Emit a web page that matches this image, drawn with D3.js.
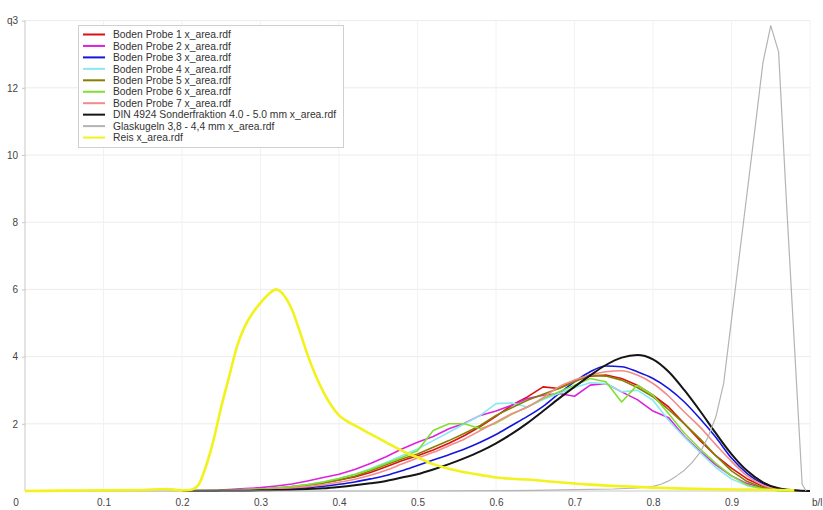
<!DOCTYPE html>
<html>
<head>
<meta charset="utf-8">
<script src="https://cdn.jsdelivr.net/npm/d3@7"></script>
<style>
  html, body { margin: 0; padding: 0; background: #fff; }
  svg { display: block; font-family: "Liberation Sans", Arial, sans-serif; }
  .axis text { fill: #444; font-size: 10px; }
  .axis path, .axis line { stroke: #c8c8c8; }
</style>
</head>
<body>
<svg id="chart" width="823" height="510"></svg>
<script>
// Shape factor b/l grid shared by the soil samples and the DIN reference
const shapeX = [0.20, 0.22, 0.24, 0.26, 0.28, 0.30, 0.32, 0.34, 0.36, 0.38,
                0.40, 0.42, 0.44, 0.46, 0.48, 0.50, 0.52, 0.54, 0.56, 0.58,
                0.60, 0.62, 0.64, 0.66, 0.68, 0.70, 0.72, 0.74, 0.76, 0.78,
                0.80, 0.82, 0.84, 0.86, 0.88, 0.90, 0.92, 0.94, 0.96, 0.98, 1.00];

const probe1 = [0, 0.01, 0.01, 0.02, 0.04, 0.06, 0.09, 0.13, 0.18, 0.25,
                0.33, 0.42, 0.55, 0.72, 0.90, 1.05, 1.22, 1.42, 1.65, 1.92,
                2.22, 2.55, 2.80, 3.10, 3.05, 3.28, 3.42, 3.45, 3.35, 3.15,
                2.85, 2.50, 2.00, 1.50, 1.05, 0.68, 0.36, 0.14, 0.04, 0.01, 0];
const probe2 = [0, 0.01, 0.02, 0.04, 0.07, 0.10, 0.15, 0.21, 0.30, 0.40,
                0.50, 0.64, 0.82, 1.02, 1.25, 1.45, 1.62, 1.85, 2.02, 2.25,
                2.38, 2.55, 2.75, 2.85, 2.90, 2.82, 3.15, 3.20, 2.95, 2.72,
                2.38, 2.18, 1.62, 1.18, 0.78, 0.45, 0.22, 0.08, 0.02, 0, 0];
const probe3 = [0, 0, 0.01, 0.01, 0.02, 0.03, 0.05, 0.07, 0.10, 0.14,
                0.20, 0.27, 0.36, 0.46, 0.60, 0.76, 0.92, 1.08, 1.25, 1.45,
                1.68, 1.95, 2.22, 2.52, 2.90, 3.25, 3.55, 3.72, 3.70, 3.55,
                3.35, 3.05, 2.65, 2.15, 1.60, 0.98, 0.52, 0.22, 0.07, 0.01, 0];
const probe4 = [0, 0.01, 0.01, 0.02, 0.04, 0.06, 0.09, 0.13, 0.19, 0.27,
                0.37, 0.50, 0.66, 0.85, 1.05, 1.25, 1.50, 1.75, 2.00, 2.25,
                2.60, 2.62, 2.50, 2.72, 2.90, 3.08, 3.22, 3.20, 2.95, 3.00,
                2.70, 2.10, 1.60, 1.15, 0.70, 0.36, 0.16, 0.06, 0.02, 0, 0];
const probe5 = [0, 0.01, 0.01, 0.02, 0.03, 0.05, 0.08, 0.12, 0.17, 0.24,
                0.33, 0.44, 0.60, 0.78, 0.95, 1.10, 1.30, 1.50, 1.72, 1.95,
                2.25, 2.48, 2.70, 2.88, 3.05, 3.25, 3.45, 3.42, 3.30, 3.08,
                2.80, 2.42, 2.00, 1.55, 1.05, 0.60, 0.28, 0.10, 0.03, 0.01, 0];
const probe6 = [0, 0.01, 0.01, 0.02, 0.04, 0.06, 0.09, 0.13, 0.19, 0.27,
                0.37, 0.49, 0.64, 0.82, 1.00, 1.20, 1.80, 2.00, 2.00, 1.85,
                2.02, 2.28, 2.50, 2.75, 2.95, 3.15, 3.35, 3.25, 2.65, 3.15,
                2.85, 2.30, 1.72, 1.25, 0.82, 0.45, 0.18, 0.06, 0.01, 0, 0];
const probe7 = [0, 0, 0.01, 0.01, 0.02, 0.04, 0.06, 0.09, 0.13, 0.19,
                0.26, 0.35, 0.47, 0.62, 0.80, 0.98, 1.15, 1.35, 1.55, 1.80,
                2.05, 2.30, 2.50, 2.78, 3.10, 3.30, 3.45, 3.55, 3.58, 3.45,
                3.20, 2.82, 2.35, 1.90, 1.38, 0.88, 0.45, 0.17, 0.05, 0.01, 0];
const din4924 = [0, 0, 0, 0.01, 0.01, 0.02, 0.03, 0.04, 0.06, 0.08,
                 0.12, 0.17, 0.23, 0.30, 0.40, 0.50, 0.64, 0.80, 0.98, 1.18,
                 1.42, 1.70, 2.02, 2.38, 2.75, 3.10, 3.44, 3.75, 3.97, 4.05,
                 3.92, 3.55, 3.00, 2.38, 1.72, 1.10, 0.60, 0.26, 0.08, 0.02, 0];

// Glass beads 3,8 - 4,4 mm
const glasX = [0, 0.10, 0.20, 0.30, 0.40, 0.50, 0.60, 0.65, 0.70, 0.75,
               0.78, 0.80, 0.81, 0.82, 0.83, 0.84, 0.85, 0.86, 0.87, 0.88,
               0.89, 0.90, 0.91, 0.92, 0.93, 0.94, 0.95, 0.96, 0.97, 0.98,
               0.99, 0.995];
const glasQ3 = [0, 0, 0, 0, 0, 0, 0.01, 0.02, 0.04, 0.06,
                0.09, 0.14, 0.20, 0.30, 0.45, 0.62, 0.85, 1.15, 1.60, 2.20,
                3.20, 5.10, 7.00, 8.90, 10.80, 12.74, 13.85, 13.07, 8.60, 4.40,
                0.20, 0];

// Rice
const reisX = [0, 0.05, 0.10, 0.15, 0.17, 0.18, 0.19, 0.20, 0.21, 0.22,
               0.23, 0.24, 0.25, 0.26, 0.27, 0.28, 0.29, 0.30, 0.31, 0.32,
               0.33, 0.34, 0.35, 0.36, 0.37, 0.38, 0.39, 0.40, 0.41, 0.42,
               0.44, 0.46, 0.48, 0.50, 0.52, 0.54, 0.56, 0.58, 0.60, 0.64,
               0.68, 0.72, 0.76, 0.80, 0.84, 0.88, 0.92, 0.96, 0.98];
const reisQ3 = [0, 0.01, 0.02, 0.03, 0.05, 0.06, 0.04, 0.02, 0.03, 0.15,
                0.70, 1.50, 2.50, 3.40, 4.30, 4.90, 5.30, 5.60, 5.85, 6.00,
                5.82, 5.40, 4.75, 4.05, 3.45, 2.95, 2.55, 2.25, 2.08, 1.95,
                1.70, 1.45, 1.20, 1.00, 0.80, 0.66, 0.56, 0.48, 0.40, 0.34,
                0.26, 0.19, 0.14, 0.10, 0.07, 0.05, 0.04, 0.03, 0.02];

const seriesNames = [
  "Boden Probe 1 x_area.rdf",
  "Boden Probe 2 x_area.rdf",
  "Boden Probe 3 x_area.rdf",
  "Boden Probe 4 x_area.rdf",
  "Boden Probe 5 x_area.rdf",
  "Boden Probe 6 x_area.rdf",
  "Boden Probe 7 x_area.rdf",
  "DIN 4924 Sonderfraktion 4.0 - 5.0 mm x_area.rdf",
  "Glaskugeln 3,8 - 4,4 mm x_area.rdf",
  "Reis x_area.rdf"
];
const seriesColors = ["#dd1111", "#dd22dd", "#1515e0", "#88e8f4", "#848000",
                      "#80e030", "#f48a8a", "#151515", "#b4b4b4", "#f2f21c"];
const seriesWidths = [1.6, 1.6, 1.6, 1.6, 1.6, 1.6, 1.6, 2, 1.2, 2.6];
// smooth interpolation for the evenly shaped curves, straight segments for the rest
const seriesSmooth = [false, false, true, false, false, false, true, true, false, true];

const xTicks = [0.1, 0.2, 0.3, 0.4, 0.5, 0.6, 0.7, 0.8, 0.9];
const yTicks = [2, 4, 6, 8, 10, 12];

const series = [
  { x: shapeX, y: probe1 }, { x: shapeX, y: probe2 }, { x: shapeX, y: probe3 },
  { x: shapeX, y: probe4 }, { x: shapeX, y: probe5 }, { x: shapeX, y: probe6 },
  { x: shapeX, y: probe7 }, { x: shapeX, y: din4924 },
  { x: glasX, y: glasQ3 }, { x: reisX, y: reisQ3 }
].map((s, i) => ({
  name: seriesNames[i], color: seriesColors[i], width: seriesWidths[i],
  smooth: seriesSmooth[i],
  points: s.x.map((xv, j) => [xv, s.y[j]])
}));

const svg = d3.select("#chart");
const x = d3.scaleLinear().domain([0, 1]).range([25, 810]);
const y = d3.scaleLinear().domain([0, 14]).range([491, 20.6]);

// grid
const grid = svg.append("g");
grid.selectAll("line.h").data(yTicks.concat([14])).join("line")
  .attr("x1", x(0)).attr("x2", x(1))
  .attr("y1", d => y(d)).attr("y2", d => y(d))
  .attr("stroke", "#ececec").attr("stroke-width", 1);
grid.selectAll("line.v").data(xTicks.concat([1])).join("line")
  .attr("x1", d => x(d)).attr("x2", d => x(d))
  .attr("y1", y(0)).attr("y2", y(14))
  .attr("stroke", "#f2f2f2").attr("stroke-width", 1);

// y axis
const yAxis = svg.append("g").attr("class", "axis")
  .attr("transform", `translate(${x(0)},0)`)
  .call(d3.axisLeft(y).tickValues(yTicks.concat([14])).tickSize(3).tickPadding(4)
    .tickFormat(d => d === 14 ? "q3" : d));
yAxis.select(".domain").attr("d", `M0,${y(0)}V${y(14)}`);

// x axis
const xAxis = svg.append("g").attr("class", "axis")
  .attr("transform", `translate(0,${y(0)})`)
  .call(d3.axisBottom(x).tickValues(xTicks).tickSize(0).tickPadding(8)
    .tickFormat(d3.format(".1f")));
xAxis.select(".domain").attr("d", `M${x(0)},0H${x(1)}`);

svg.append("text").attr("x", 16).attr("y", 506).attr("text-anchor", "middle")
  .attr("fill", "#444").attr("font-size", 10).text("0");
svg.append("text").attr("x", 812).attr("y", 506)
  .attr("fill", "#444").attr("font-size", 10).text("b/l");

// curves
const lineStraight = d3.line().x(d => x(d[0])).y(d => y(d[1]));
const lineSmooth = d3.line().x(d => x(d[0])).y(d => y(d[1])).curve(d3.curveMonotoneX);
svg.append("g").selectAll("path").data(series).join("path")
  .attr("d", d => (d.smooth ? lineSmooth : lineStraight)(d.points))
  .attr("fill", "none")
  .attr("stroke", d => d.color)
  .attr("stroke-width", d => d.width)
  .attr("stroke-linejoin", "round");

// legend
const legend = svg.append("g");
legend.append("rect").attr("x", 78.5).attr("y", 25.5).attr("width", 265).attr("height", 122)
  .attr("fill", "#fff").attr("stroke", "#d0d0d0");
const rows = legend.selectAll("g.row").data(series).join("g")
  .attr("transform", (d, i) => `translate(0,${34.5 + i * 11.45})`);
rows.append("line").attr("x1", 83).attr("x2", 105).attr("y1", 0).attr("y2", 0)
  .attr("stroke", d => d.color).attr("stroke-width", 2);
rows.append("text").attr("x", 113).attr("y", 3.7)
  .attr("font-size", 10.3).attr("fill", "#333").text(d => d.name);
</script>
</body>
</html>
